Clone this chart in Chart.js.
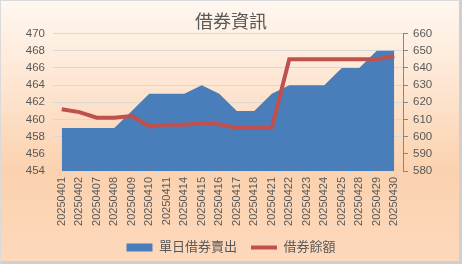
<!DOCTYPE html>
<html>
<head>
<meta charset="utf-8">
<script src="https://cdn.jsdelivr.net/npm/chart.js@4.4.1/dist/chart.umd.min.js"></script>
<style>
  html, body { margin: 0; padding: 0; }
  #wrap {
    position: relative; width: 462px; height: 264px; box-sizing: border-box;
    background: linear-gradient(to bottom, #fff7f0 0%, #fde4cf 35%, #fbd2af 65%, #fdd8bb 100%);
    border-top: 1px solid #dadada; border-left: 1px solid #dadada;
    border-right: 3px solid #cfcfcf; border-bottom: 3px solid #cfcfcf;
  }
  canvas { position: absolute; left: -1px; top: -1px; }
</style>
</head>
<body>
<div id="wrap"><canvas id="c" width="462" height="264"></canvas></div>
<script>
const categories = ["20250401","20250402","20250407","20250408","20250409","20250410","20250411","20250414","20250415","20250416","20250417","20250418","20250421","20250422","20250423","20250424","20250425","20250428","20250429","20250430"];
const dailyShortSales = [459,459,459,459,461,463,463,463,464,463,461,461,463,464,464,464,466,466,468,468];
const lendingBalance = [616,614.3,611,611,612,606,607,607,607.8,607.2,605,605,605,645,645,645,645,645,645,647];
const leftTicks = {min: 454, max: 470, step: 2};
const rightTicks = {min: 580, max: 660, step: 10};
const titleText = "借券資訊";
const seriesNames = ["單日借券賣出", "借券餘額"];

const FONT = "'Liberation Sans', 'Noto Sans CJK TC', sans-serif";
const TXT = "#595959";

new Chart(document.getElementById('c'), {
  type: 'line',
  data: {
    labels: categories,
    datasets: [
      {
        label: seriesNames[1],
        data: lendingBalance,
        yAxisID: 'y1',
        borderColor: '#c0504d',
        backgroundColor: '#c0504d',
        borderWidth: 4,
        pointRadius: 0,
        pointStyle: 'line',
        tension: 0,
        fill: false,
        order: 0
      },
      {
        label: seriesNames[0],
        data: dailyShortSales,
        yAxisID: 'y',
        borderColor: '#4a7ebb',
        backgroundColor: '#4a7ebb',
        borderWidth: 0,
        pointRadius: 0,
        pointStyle: 'rect',
        tension: 0,
        fill: 'origin',
        order: 1
      }
    ]
  },
  options: {
    responsive: false,
    animation: false,
    layout: { padding: { left: 10, right: 10, top: 4, bottom: 0 } },
    plugins: {
      title: {
        display: true, text: titleText, color: TXT,
        font: { family: FONT, size: 18, weight: 'normal' },
        padding: { top: 8, bottom: 0 }
      },
      legend: {
        position: 'bottom',
        reverse: true,
        labels: {
          usePointStyle: true,
          pointStyleWidth: 26,
          boxHeight: 8,
          color: TXT,
          padding: 14,
          font: { family: FONT, size: 13 }
        }
      },
      tooltip: { enabled: false }
    },
    scales: {
      x: {
        offset: true,
        grid: { display: true, offset: true, drawOnChartArea: false, tickLength: 4, color: '#d9d9d9' },
        border: { display: true, color: '#d9d9d9' },
        ticks: { minRotation: 90, maxRotation: 90, autoSkip: false, color: TXT, padding: 2, font: { family: FONT, size: 11 } },
        afterFit: s => { s.height = 56; }
      },
      y: {
        position: 'left',
        min: leftTicks.min, max: leftTicks.max,
        ticks: { stepSize: leftTicks.step, color: TXT, padding: 8, font: { family: FONT, size: 11.5 } },
        grid: { color: '#d9d9d9', drawTicks: false },
        border: { display: false },
        afterFit: s => { s.width = 43; }
      },
      y1: {
        position: 'right',
        min: rightTicks.min, max: rightTicks.max,
        ticks: { stepSize: rightTicks.step, color: TXT, padding: 5, font: { family: FONT, size: 11.5 } },
        grid: { drawOnChartArea: false, tickLength: 5, color: '#868686' },
        border: { display: true, color: '#868686' },
        afterFit: s => { s.width = 49; }
      }
    }
  }
});
</script>
</body>
</html>
